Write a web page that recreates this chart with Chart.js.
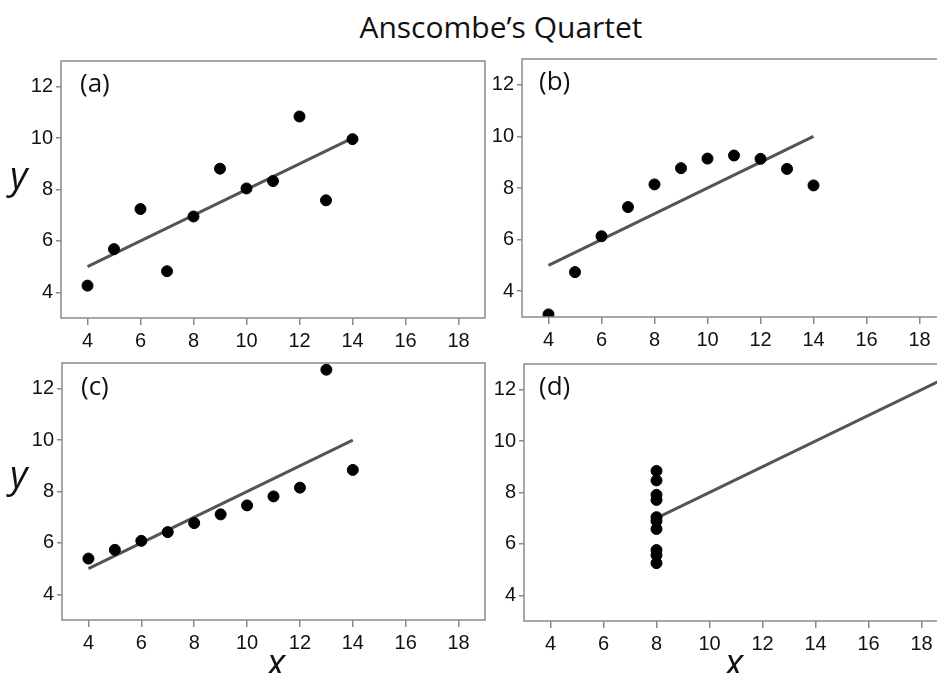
<!DOCTYPE html>
<html>
<head>
<meta charset="utf-8">
<script src="https://cdn.jsdelivr.net/npm/chart.js@4.4.1/dist/chart.umd.min.js"></script>
<style>
  html, body { margin: 0; padding: 0; background: #fff; }
  body { width: 937px; height: 673px; overflow: hidden; position: relative; }
  canvas { position: absolute; }
  .lbl { position: absolute; font-family: "Open Sans", sans-serif; color: #111; line-height: 1; white-space: nowrap; }
  .title { font-size: 30px; left: 0; width: 1002px; text-align: center; top: 12px; }
  .panel { font-size: 26px; }
  .axis { font-size: 38px; font-style: italic; }
</style>
</head>
<body>
<div class="lbl title">Anscombe’s Quartet</div>
<canvas id="panelA"></canvas>
<canvas id="panelB"></canvas>
<canvas id="panelC"></canvas>
<canvas id="panelD"></canvas>
<div class="lbl panel" style="left:80px;top:69px">(a)</div>
<div class="lbl panel" style="left:539px;top:67px">(b)</div>
<div class="lbl panel" style="left:81px;top:372px">(c)</div>
<div class="lbl panel" style="left:539px;top:372px">(d)</div>
<div class="lbl axis" style="left:10px;top:155px">y</div>
<div class="lbl axis" style="left:10px;top:454px">y</div>
<div class="lbl axis" style="left:267px;top:642px">x</div>
<div class="lbl axis" style="left:725px;top:642px">x</div>
<script>
// tick labels
const xTickValues = [4, 6, 8, 10, 12, 14, 16, 18];
const yTickValues = [4, 6, 8, 10, 12];

// Anscombe data
const x123 = [10, 8, 13, 9, 11, 14, 6, 4, 12, 7, 5];
const yA = [8.04, 6.95, 7.58, 8.81, 8.33, 9.96, 7.24, 4.26, 10.84, 4.82, 5.68];
const yB = [9.14, 8.14, 8.74, 8.77, 9.26, 8.10, 6.13, 3.10, 9.13, 7.26, 4.74];
const yC = [7.46, 6.77, 12.74, 7.11, 7.81, 8.84, 6.08, 5.39, 8.15, 6.42, 5.73];
const xD = [8, 8, 8, 8, 8, 8, 8, 19, 8, 8, 8];
const yD = [6.58, 5.76, 7.71, 8.84, 8.47, 7.04, 5.25, 12.50, 5.56, 7.91, 6.89];

// fitted line endpoints
const fitX = [4, 14];
const fitY = [5, 10];
const fitXD = [8, 19];
const fitYD = [7, 12.5];

const AXIS_W = 50, AXIS_H = 40, PAD = 10;
const frameColor = '#8a8a8a';

// draw the full box round the plot area
const frame = {
  id: 'frame',
  afterDraw(chart) {
    const a = chart.chartArea, ctx = chart.ctx;
    ctx.save();
    ctx.strokeStyle = frameColor;
    ctx.lineWidth = 1.5;
    ctx.strokeRect(a.left, a.top, a.right - a.left, a.bottom - a.top);
    ctx.restore();
  }
};

function pairs(xs, ys) {
  return xs.map((x, i) => ({ x: x, y: ys[i] }));
}

function makePanel(id, area, xs, ys, lx, ly) {
  const cv = document.getElementById(id);
  const w = (area.r - area.l) + AXIS_W + PAD;
  const h = (area.b - area.t) + PAD + AXIS_H;
  cv.width = w; cv.height = h;
  cv.style.left = (area.l - AXIS_W) + 'px';
  cv.style.top = (area.t - PAD) + 'px';
  cv.style.width = w + 'px';
  cv.style.height = h + 'px';

  new Chart(cv.getContext('2d'), {
    type: 'scatter',
    data: {
      datasets: [
        {
          data: pairs(xs, ys),
          backgroundColor: '#000',
          borderColor: '#000',
          pointRadius: 5.5,
          pointHoverRadius: 5.5,
          order: 0
        },
        {
          type: 'line',
          data: pairs(lx, ly),
          borderColor: '#555',
          borderWidth: 3,
          pointRadius: 0,
          fill: false,
          order: 1
        }
      ]
    },
    options: {
      responsive: false,
      animation: false,
      devicePixelRatio: 1,
      layout: { padding: { top: PAD, right: PAD, left: 0, bottom: 0 } },
      plugins: { legend: { display: false }, tooltip: { enabled: false } },
      scales: {
        x: {
          type: 'linear',
          min: 3, max: 19,
          afterFit: s => { s.height = AXIS_H; },
          afterBuildTicks: s => { s.ticks = xTickValues.map(v => ({ value: v })); },
          border: { display: false },
          grid: { drawOnChartArea: false, tickLength: 7, color: frameColor, lineWidth: 1.5 },
          ticks: { color: '#111', padding: 4, font: { family: 'Liberation Sans', size: 20 } }
        },
        y: {
          type: 'linear',
          min: 3, max: 13,
          afterFit: s => { s.width = AXIS_W; },
          afterBuildTicks: s => { s.ticks = yTickValues.map(v => ({ value: v })); },
          border: { display: false },
          grid: { drawOnChartArea: false, tickLength: 5, color: frameColor, lineWidth: 1.5 },
          ticks: { color: '#111', padding: 3, font: { family: 'Liberation Sans', size: 20 } }
        }
      }
    },
    plugins: [frame]
  });
}

makePanel('panelA', { l: 61, t: 56, r: 485, b: 318 }, x123, yA, fitX, fitY);
makePanel('panelB', { l: 522, t: 54, r: 946, b: 317 }, x123, yB, fitX, fitY);
makePanel('panelC', { l: 62, t: 358, r: 485, b: 620 }, x123, yC, fitX, fitY);
makePanel('panelD', { l: 524, t: 359, r: 948, b: 621 }, xD, yD, fitXD, fitYD);
</script>
</body>
</html>
